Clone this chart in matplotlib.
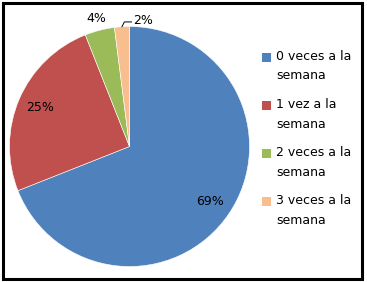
import numpy as np
import matplotlib
matplotlib.use("Agg")
import matplotlib.pyplot as plt
from matplotlib.patches import Rectangle

categorias = ["0 veces a la\nsemana", "1 vez a la\nsemana",
              "2 veces a la\nsemana", "3 veces a la\nsemana"]
valores = [69, 25, 4, 2]
colores = ["#4F81BD", "#C0504D", "#9BBB59", "#F9BE8E"]

W, H = 367, 282
fig = plt.figure(figsize=(W / 100, H / 100), dpi=100)
plt.rcParams['font.family'] = ['DejaVu Sans']

# pie axes: centre (129, 146) px, radius 120 px
cx, cy, r = 129.5, 146.5, 120
ax = fig.add_axes([(cx - r) / W, (H - cy - r) / H, 2 * r / W, 2 * r / H])
wedges, _ = ax.pie(valores, colors=colores, startangle=90, counterclock=False,
                   radius=1, wedgeprops=dict(linewidth=0.4, edgecolor="white"))
ax.set_xlim(-1, 1)
ax.set_ylim(-1, 1)

total = sum(valores)
for w, v in zip(wedges, valores):
    ang = np.deg2rad((w.theta1 + w.theta2) / 2)
    txt = "%d%%" % round(100 * v / total)
    if v >= 10:
        ax.text(0.81 * np.cos(ang), 0.81 * np.sin(ang), txt,
                ha="center", va="center", fontsize=9)
    elif v >= 3:
        ax.text(1.12 * np.cos(ang), 1.10 * np.sin(ang), txt,
                ha="center", va="center", fontsize=9)
    else:
        x0, y0 = np.cos(ang), np.sin(ang)
        ax.plot([x0, x0 + 0.02, x0 + 0.08], [y0, y0 + 0.04, y0 + 0.04],
                color="black", lw=0.7, clip_on=False)
        ax.text(x0 + 0.09, y0 + 0.05, txt, ha="left", va="center", fontsize=9)

# legend
for i, (lab, col) in enumerate(zip(categorias, colores)):
    ytop = 57 + 48 * i
    fig.patches.append(Rectangle(((262) / W, (H - ytop - 4.5) / H), 9 / W, 9 / H,
                                 transform=fig.transFigure, facecolor=col,
                                 edgecolor="none"))
    l1, l2 = lab.split("\n")
    fig.text(276 / W, (H - ytop) / H, l1, ha="left", va="center", fontsize=9)
    fig.text(276 / W, (H - ytop - 19) / H, l2, ha="left", va="center", fontsize=9)

# border
fig.patches.append(Rectangle((2.5 / W, 3.5 / H), 359.5 / W, 276 / H,
                             transform=fig.transFigure, fill=False,
                             edgecolor="black", linewidth=2.2))

fig.savefig("out.png", dpi=100)
